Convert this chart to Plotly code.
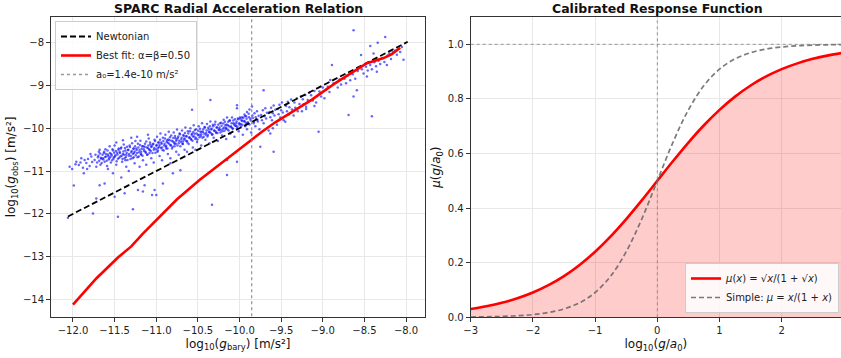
import math
import plotly.graph_objects as go

# ---------------- data: left panel (SPARC RAR) ----------------
# (log10 g_bar, log10 g_obs) pairs
cloud_low = [
    (-12.04, -10.90), (-12.01, -10.95), (-11.97, -10.84), (-11.99, -11.34), (-12.06, -12.09), (-11.96, -10.78),
    (-11.93, -10.86), (-11.91, -10.80), (-11.88, -10.92), (-11.86, -10.74), (-11.90, -10.70), (-11.87, -11.05),
    (-11.84, -10.81), (-11.82, -10.72), (-11.80, -10.88), (-11.78, -10.66), (-11.77, -10.79), (-11.83, -10.95),
    (-11.76, -11.99), (-11.79, -10.60),
    (-11.74, -10.74), (-11.72, -11.64), (-11.73, -10.62), (-11.71, -10.80), (-11.70, -10.68), (-11.69, -10.55),
    (-11.68, -11.33), (-11.67, -10.85), (-11.66, -10.71), (-11.72, -10.90), (-11.68, -10.50),
    (-11.64, -10.70), (-11.63, -10.58), (-11.62, -11.29), (-11.62, -10.78), (-11.61, -10.49), (-11.60, -10.66),
    (-11.59, -10.88), (-11.58, -10.61), (-11.57, -10.73), (-11.56, -10.42), (-11.58, -10.95), (-11.55, -10.67),
    (-11.54, -10.60), (-11.53, -10.75), (-11.52, -10.52), (-11.51, -10.68), (-11.50, -11.60), (-11.50, -10.40),
    (-11.49, -10.63), (-11.48, -10.85), (-11.47, -10.57), (-11.46, -12.07), (-11.46, -10.71), (-11.45, -10.47),
    (-11.52, -11.05), (-11.48, -10.33),
    (-11.44, -10.55), (-11.43, -10.66), (-11.42, -10.45), (-11.41, -10.78), (-11.40, -10.60), (-11.39, -10.38),
    (-11.38, -11.52), (-11.38, -10.70), (-11.37, -10.52), (-11.36, -10.90), (-11.36, -10.62), (-11.35, -10.43),
    (-11.42, -11.15), (-11.40, -10.28), (-11.37, -10.75),
    (-11.34, -10.50), (-11.33, -10.64), (-11.32, -10.40), (-11.31, -10.72), (-11.30, -10.56), (-11.29, -10.35),
    (-11.28, -11.89), (-11.28, -10.60), (-11.27, -10.47), (-11.26, -10.82), (-11.26, -10.54), (-11.25, -10.30),
    (-11.33, -11.00), (-11.30, -10.22), (-11.27, -10.68),
    (-11.24, -10.47), (-11.23, -10.58), (-11.22, -11.44), (-11.22, -10.36), (-11.21, -10.66), (-11.20, -10.51),
    (-11.19, -10.29), (-11.18, -10.55), (-11.17, -10.42), (-11.16, -11.48), (-11.16, -10.75), (-11.15, -10.49),
    (-11.23, -10.20), (-11.20, -10.90), (-11.18, -10.62),
    (-11.14, -11.33), (-11.14, -10.43), (-11.13, -10.55), (-11.12, -10.31), (-11.11, -10.62), (-11.10, -10.46),
    (-11.09, -10.24), (-11.08, -10.51), (-11.07, -10.38), (-11.06, -10.70), (-11.06, -10.44), (-11.05, -11.56),
    (-11.12, -10.85), (-11.10, -10.15), (-11.08, -10.58),
]
cloud_mid = [
    (-11.04, -10.38), (-11.03, -10.50), (-11.02, -11.44), (-11.02, -10.27), (-11.01, -10.57), (-11.00, -10.41),
    (-11.00, -11.56), (-10.99, -10.20), (-10.98, -10.46), (-10.97, -10.33), (-10.96, -10.65), (-10.96, -10.39),
    (-10.95, -10.12), (-11.03, -10.80), (-10.98, -10.52),
    (-10.94, -10.33), (-10.93, -10.45), (-10.92, -11.29), (-10.92, -10.22), (-10.91, -10.52), (-10.90, -10.36),
    (-10.89, -10.15), (-10.88, -10.41), (-10.87, -10.28), (-10.86, -10.60), (-10.86, -10.34), (-10.85, -10.08),
    (-10.93, -10.75), (-10.88, -10.47),
    (-10.84, -10.28), (-10.83, -10.40), (-10.82, -10.17), (-10.81, -10.47), (-10.80, -10.31), (-10.79, -10.10),
    (-10.78, -10.36), (-10.77, -10.23), (-10.76, -10.55), (-10.76, -10.29), (-10.75, -10.03), (-10.83, -10.70),
    (-10.78, -10.42), (-10.80, -11.05), (-10.83, -10.82), (-10.71, -10.98),
    (-10.74, -10.23), (-10.73, -10.35), (-10.72, -10.12), (-10.71, -10.42), (-10.70, -10.26), (-10.69, -10.05),
    (-10.68, -10.31), (-10.67, -10.18), (-10.66, -10.50), (-10.66, -10.24), (-10.65, -9.98), (-10.73, -10.62),
    (-10.68, -10.37),
    (-10.64, -10.18), (-10.63, -10.30), (-10.62, -10.07), (-10.61, -10.37), (-10.60, -10.21), (-10.59, -10.00),
    (-10.58, -10.26), (-10.57, -9.57), (-10.57, -10.13), (-10.56, -10.45), (-10.56, -10.19), (-10.55, -9.93),
    (-10.63, -10.55),
    (-10.54, -10.13), (-10.53, -10.25), (-10.52, -10.02), (-10.51, -10.32), (-10.50, -10.16), (-10.49, -9.95),
    (-10.48, -10.21), (-10.47, -10.08), (-10.46, -10.40), (-10.46, -10.14), (-10.45, -9.88), (-10.53, -10.50),
    (-10.44, -10.08), (-10.43, -10.20), (-10.42, -9.97), (-10.41, -10.27), (-10.40, -10.11), (-10.39, -9.90),
    (-10.38, -10.16), (-10.37, -10.03), (-10.36, -10.35), (-10.36, -10.09), (-10.35, -9.34), (-10.35, -9.84),
    (-10.34, -10.03), (-10.33, -11.79), (-10.33, -10.15), (-10.32, -9.92), (-10.31, -10.22), (-10.30, -10.06),
    (-10.29, -9.85), (-10.28, -10.11), (-10.27, -9.98), (-10.26, -10.30), (-10.25, -10.04),
    (-10.24, -9.98), (-10.23, -10.10), (-10.22, -9.87), (-10.21, -10.17), (-10.20, -10.01), (-10.19, -9.80),
    (-10.18, -10.06), (-10.17, -9.93), (-10.16, -10.25), (-10.16, -9.99), (-10.15, -9.75), (-10.15, -10.74),
    (-10.15, -11.09),
    (-10.14, -9.93), (-10.13, -10.05), (-10.12, -9.82), (-10.11, -10.12), (-10.10, -9.96), (-10.09, -9.75),
    (-10.08, -10.01), (-10.07, -9.88), (-10.06, -10.20), (-10.05, -9.94), (-10.03, -10.78), (-10.03, -9.46),
]
cloud_core = [
    (-11.695, -10.64), (-11.685, -10.76), (-11.675, -10.59), (-11.665, -10.69), (-11.655, -10.81), (-11.645, -10.62),
    (-11.635, -10.73), (-11.625, -10.55), (-11.615, -10.67), (-11.605, -10.60), (-11.595, -10.76), (-11.585, -10.52),
    (-11.575, -10.65), (-11.565, -10.70), (-11.555, -10.58), (-11.545, -10.80), (-11.535, -10.63), (-11.525, -10.49),
    (-11.515, -10.71), (-11.505, -10.57), (-11.495, -10.66), (-11.485, -10.53), (-11.475, -10.77), (-11.465, -10.61),
    (-11.455, -10.50), (-11.445, -10.69), (-11.435, -10.58), (-11.425, -10.47), (-11.415, -10.64), (-11.405, -10.72),
    (-11.395, -10.54), (-11.385, -10.62), (-11.375, -10.46), (-11.365, -10.67), (-11.355, -10.57), (-11.345, -10.74),
    (-11.335, -10.51), (-11.325, -10.60), (-11.315, -10.44), (-11.305, -10.65), (-11.295, -10.53), (-11.285, -10.70),
    (-11.275, -10.48), (-11.265, -10.58), (-11.255, -10.42), (-11.245, -10.63), (-11.235, -10.51), (-11.225, -10.68),
    (-11.215, -10.45), (-11.205, -10.56), (-11.195, -10.39), (-11.185, -10.60), (-11.175, -10.48), (-11.165, -10.64),
    (-11.155, -10.42), (-11.145, -10.53), (-11.135, -10.36), (-11.125, -10.57), (-11.115, -10.45), (-11.105, -10.61),
    (-11.095, -10.40), (-11.085, -10.49), (-11.075, -10.33), (-11.065, -10.53), (-11.055, -10.42), (-11.045, -10.58),
    (-11.035, -10.36), (-11.025, -10.46), (-11.015, -10.30), (-11.005, -10.49), (-10.995, -10.39), (-10.985, -10.55),
    (-10.975, -10.33), (-10.965, -10.43), (-10.955, -10.27), (-10.945, -10.46), (-10.935, -10.36), (-10.925, -10.51),
    (-10.915, -10.30), (-10.905, -10.40), (-10.895, -10.24), (-10.885, -10.43), (-10.875, -10.32), (-10.865, -10.47),
    (-10.855, -10.26), (-10.845, -10.36), (-10.835, -10.21), (-10.825, -10.39), (-10.815, -10.29), (-10.805, -10.43),
    (-10.795, -10.23), (-10.785, -10.33), (-10.775, -10.18), (-10.765, -10.36), (-10.755, -10.26), (-10.745, -10.40),
    (-10.735, -10.19), (-10.725, -10.29), (-10.715, -10.14), (-10.705, -10.32), (-10.695, -10.22), (-10.685, -10.36),
    (-10.675, -10.16), (-10.665, -10.26), (-10.655, -10.11), (-10.645, -10.29), (-10.635, -10.19), (-10.625, -10.33),
    (-10.615, -10.12), (-10.605, -10.22), (-10.595, -10.07), (-10.585, -10.25), (-10.575, -10.15), (-10.565, -10.29),
    (-10.555, -10.09), (-10.545, -10.19), (-10.535, -10.04), (-10.525, -10.22), (-10.515, -10.12), (-10.505, -10.26),
    (-10.495, -10.06), (-10.485, -10.15), (-10.475, -10.01), (-10.465, -10.18), (-10.455, -10.08), (-10.445, -10.22),
    (-10.435, -10.02), (-10.425, -10.12), (-10.415, -9.98), (-10.405, -10.15), (-10.395, -10.05), (-10.385, -10.19),
    (-10.375, -9.99), (-10.365, -10.09), (-10.355, -9.95), (-10.345, -10.11), (-10.335, -10.01), (-10.325, -10.14),
    (-10.315, -9.95), (-10.305, -10.05), (-10.295, -9.91), (-10.285, -10.08), (-10.275, -9.98), (-10.265, -10.11),
    (-10.255, -9.92), (-10.245, -10.02), (-10.235, -9.88), (-10.225, -10.04), (-10.215, -9.94), (-10.205, -10.07),
    (-10.195, -9.89), (-10.185, -9.98), (-10.175, -9.85), (-10.165, -10.01), (-10.155, -9.91), (-10.145, -10.03),
    (-10.135, -9.85), (-10.125, -9.95), (-10.115, -9.82), (-10.105, -9.97), (-10.095, -9.88), (-10.085, -10.00),
    (-10.075, -9.82), (-10.065, -9.91), (-10.055, -9.79), (-10.045, -9.94), (-10.035, -9.84), (-10.025, -9.96),
    (-10.015, -9.79), (-10.005, -9.88), (-9.995, -9.75), (-9.985, -9.90), (-9.975, -9.81), (-9.965, -9.92),
    (-9.955, -9.76), (-9.945, -9.84), (-9.935, -9.72), (-9.925, -9.87), (-9.915, -9.78), (-9.905, -9.89),
    (-9.885, -9.74), (-9.865, -9.82), (-9.845, -9.70), (-9.825, -9.85), (-9.805, -9.74), (-9.785, -9.80),
]
cloud_high = [
    (-10.04, -9.88), (-10.03, -9.53), (-10.03, -10.00), (-10.02, -9.77), (-10.01, -10.07), (-10.00, -9.91),
    (-9.99, -9.77), (-9.98, -9.96), (-9.97, -9.83), (-9.96, -10.15),
    (-9.97, -9.74), (-9.94, -9.68), (-9.91, -9.62), (-9.88, -9.56), (-9.85, -9.49),
    (-9.94, -9.83), (-9.93, -9.95), (-9.92, -9.72), (-9.91, -10.02), (-9.90, -9.86), (-9.89, -9.66),
    (-9.88, -9.91), (-9.87, -9.78), (-9.86, -10.10),
    (-9.84, -9.76), (-9.83, -9.88), (-9.82, -9.65), (-9.81, -9.95), (-9.80, -9.79), (-9.79, -9.60),
    (-9.78, -9.84), (-9.77, -9.71), (-9.76, -10.02), (-9.75, -10.43),
    (-9.74, -9.69), (-9.73, -9.81), (-9.72, -9.58), (-9.71, -9.11), (-9.71, -9.88), (-9.70, -9.72),
    (-9.69, -9.53), (-9.68, -9.77), (-9.67, -9.64), (-9.65, -10.05), (-9.63, -10.12),
    (-9.64, -9.62), (-9.63, -9.74), (-9.62, -9.52), (-9.61, -9.81), (-9.60, -9.65), (-9.59, -9.47),
    (-9.58, -9.70), (-9.57, -9.57), (-9.60, -10.00), (-9.59, -10.55),
    (-9.54, -9.55), (-9.53, -9.67), (-9.52, -9.45), (-9.51, -9.75), (-9.50, -9.58), (-9.49, -9.40),
    (-9.48, -9.63), (-9.47, -9.81), (-9.55, -9.92), (-9.45, -9.85),
    (-9.44, -9.48), (-9.43, -9.60), (-9.42, -9.38), (-9.41, -9.68), (-9.40, -9.51), (-9.38, -9.33),
    (-9.37, -9.56), (-9.35, -9.70),
    (-9.34, -9.40), (-9.33, -9.52), (-9.31, -9.30), (-9.30, -9.60), (-9.28, -9.43), (-9.26, -9.25),
    (-9.25, -9.60),
    (-9.24, -9.32), (-9.23, -9.44), (-9.21, -9.22), (-9.20, -9.50), (-9.18, -9.34), (-9.16, -9.17),
    (-9.20, -9.55),
    (-9.14, -9.23), (-9.12, -9.35), (-9.10, -9.13), (-9.08, -9.40), (-9.05, -10.08), (-9.10, -9.48),
    (-9.04, -9.14), (-9.02, -9.26), (-9.00, -9.05), (-8.98, -9.30), (-8.96, -9.10),
    (-8.94, -9.03), (-8.92, -9.15), (-8.91, -8.87), (-8.89, -8.52), (-8.87, -8.95),
    (-8.84, -8.94), (-8.82, -9.05), (-8.80, -8.86), (-8.78, -8.98),
    (-8.74, -8.84), (-8.72, -8.95), (-8.69, -9.69), (-8.70, -8.76), (-8.67, -8.88),
    (-8.64, -8.74), (-8.63, -7.71), (-8.63, -9.26), (-8.61, -8.84), (-8.59, -9.11), (-8.58, -8.66),
    (-8.54, -8.29), (-8.53, -8.62), (-8.51, -8.72), (-8.48, -8.56), (-8.47, -8.79), (-8.46, -8.65),
    (-8.43, -8.08), (-8.43, -8.52), (-8.41, -9.72), (-8.41, -8.62), (-8.39, -8.25), (-8.38, -8.46),
    (-8.36, -8.55), (-8.35, -8.68),
    (-8.34, -8.00), (-8.33, -8.42), (-8.31, -8.50), (-8.28, -8.36), (-8.26, -8.45), (-8.25, -7.87),
    (-8.23, -8.52), (-8.22, -8.30), (-8.20, -8.25), (-8.18, -8.38), (-8.16, -8.22),
    (-8.13, -8.18), (-8.11, -8.28), (-8.09, -8.14), (-8.07, -8.22), (-8.03, -8.40), (-8.05, -8.10),
]

newton_x = [-12.06, -7.98]

fit_x = [-12.00, -11.72, -11.46, -11.30, -11.16, -11.00, -10.75, -10.48, -10.17, -9.93, -9.73,
         -9.57, -9.37, -9.13, -9.00, -8.83, -8.65, -8.47, -8.27, -8.17, -8.07]
fit_y = [-14.12, -13.51, -13.02, -12.76, -12.46, -12.15, -11.66, -11.21, -10.74, -10.39, -10.08,
         -9.86, -9.62, -9.33, -9.15, -8.92, -8.70, -8.48, -8.36, -8.27, -8.12]

a0 = 1.4e-10

# ---------------- data: right panel (response function) ----------------
resp_t = [-3.0, -2.75, -2.5, -2.25, -2.0, -1.75, -1.5, -1.25, -1.0, -0.75, -0.5, -0.25, 0.0,
          0.25, 0.5, 0.75, 1.0, 1.25, 1.5, 1.75, 2.0, 2.25, 2.5, 2.75, 3.0]
mu_fit = [0.0307, 0.0405, 0.0532, 0.0698, 0.0909, 0.1177, 0.1510, 0.1917, 0.2403, 0.2966, 0.3599,
          0.4285, 0.5000, 0.5715, 0.6401, 0.7034, 0.7597, 0.8083, 0.8490, 0.8823, 0.9091, 0.9302,
          0.9468, 0.9595, 0.9693]
mu_simple = [0.0010, 0.0018, 0.0032, 0.0056, 0.0099, 0.0175, 0.0307, 0.0532, 0.0909, 0.1510, 0.2403,
             0.3599, 0.5000, 0.6401, 0.7597, 0.8490, 0.9091, 0.9468, 0.9693, 0.9825, 0.9901, 0.9944,
             0.9968, 0.9982, 0.9990]

left_xticks = [-12.0, -11.5, -11.0, -10.5, -10.0, -9.5, -9.0, -8.5, -8.0]
left_yticks = [-14, -13, -12, -11, -10, -9, -8]
right_xticks = [-3, -2, -1, 0, 1, 2]
right_yticks = [0.0, 0.2, 0.4, 0.6, 0.8, 1.0]


def lab(v, fmt):
    s = fmt.format(v)
    return s.replace("-", "\u2212")


pts = cloud_low + cloud_mid + cloud_core + cloud_high
px = [p[0] for p in pts]
py = [p[1] for p in pts]

FONT = "DejaVu Sans"
fig = go.Figure()

fig.add_trace(go.Scatter(
    x=px, y=py, mode="markers", xaxis="x", yaxis="y", showlegend=False,
    marker=dict(size=2.5, color="rgba(0,0,255,0.6)", line=dict(width=0)),
))
fig.add_trace(go.Scatter(
    x=newton_x, y=newton_x, mode="lines", name="Newtonian", xaxis="x", yaxis="y",
    line=dict(color="black", width=1.8, dash="6px,3px"), legend="legend",
))
fig.add_trace(go.Scatter(
    x=fit_x, y=fit_y, mode="lines", name="Best fit: \u03b1=\u03b2=0.50", xaxis="x", yaxis="y",
    line=dict(color="red", width=2.6), legend="legend",
))
la0 = math.log10(a0)
fig.add_trace(go.Scatter(
    x=[la0, la0], y=[-20, 0], mode="lines", name="a\u2080=1.4e-10 m/s\u00b2", xaxis="x", yaxis="y",
    line=dict(color="rgba(128,128,128,0.8)", width=1.3, dash="dot"), legend="legend",
))

# right panel
fig.add_trace(go.Scatter(
    x=resp_t, y=mu_fit, mode="lines", xaxis="x2", yaxis="y2", showlegend=False,
    fill="tozeroy", fillcolor="rgba(255,0,0,0.2)", line=dict(width=0, shape="spline"),
    hoverinfo="skip",
))
fig.add_trace(go.Scatter(
    x=resp_t, y=mu_fit, mode="lines", xaxis="x2", yaxis="y2", legend="legend2",
    name="<i>\u03bc</i>(<i>x</i>) = \u221a<i>x</i>/(1 + \u221a<i>x</i>)",
    line=dict(color="red", width=2.6, shape="spline"),
))
fig.add_trace(go.Scatter(
    x=resp_t, y=mu_simple, mode="lines", xaxis="x2", yaxis="y2", legend="legend2",
    name="Simple: <i>\u03bc</i> = <i>x</i>/(1 + <i>x</i>)",
    line=dict(color="rgba(100,100,100,0.85)", width=1.7, dash="5px,3px", shape="spline"),
))

fig.add_shape(type="line", xref="x2 domain", yref="y2", x0=0, x1=1, y0=1.0, y1=1.0,
              line=dict(color="rgba(128,128,128,0.8)", width=1, dash="dot"))
fig.add_shape(type="line", xref="x2", yref="y2 domain", x0=0, x1=0, y0=0, y1=1,
              line=dict(color="rgba(128,128,128,0.8)", width=1, dash="dot"))

axis_common = dict(
    showline=True, linecolor="#333333", linewidth=1, ticks="outside", ticklen=4, tickwidth=1,
    tickcolor="#333333", showgrid=True, gridcolor="#e8e8e8", gridwidth=1, zeroline=False,
    tickfont=dict(family=FONT, size=10, color="#222"), automargin=False,
)
title_font = dict(family=FONT, size=12, color="#111")

fig.update_layout(
    template="none",
    width=841, height=358, margin=dict(l=0, r=0, t=0, b=0, autoexpand=False),
    paper_bgcolor="white", plot_bgcolor="white",
    font=dict(family=FONT, size=10, color="#222"),
    xaxis=dict(domain=[51 / 841, 425 / 841], range=[-12.264, -7.772], mirror=True,
               tickvals=left_xticks, ticktext=[lab(v, "{:.1f}") for v in left_xticks],
               title=dict(text="log<sub>10</sub>(<i>g</i><sub>bary</sub>) [m/s\u00b2]", font=title_font, standoff=4),
               anchor="y", **axis_common),
    yaxis=dict(domain=[1 - 317 / 358, 1 - 17 / 358], range=[-14.41, -7.40], mirror=True,
               tickvals=left_yticks, ticktext=[lab(v, "{:d}") for v in left_yticks],
               title=dict(text="log<sub>10</sub>(<i>g</i><sub>obs</sub>) [m/s\u00b2]", font=title_font, standoff=4),
               anchor="x", **axis_common),
    xaxis2=dict(domain=[470.7 / 841, 1.0], range=[-3, 2.953], mirror=True,
                tickvals=right_xticks, ticktext=[lab(v, "{:d}") for v in right_xticks],
                title=dict(text="log<sub>10</sub>(<i>g</i>/<i>a</i><sub>0</sub>)", font=title_font, standoff=4),
                anchor="y2", **axis_common),
    yaxis2=dict(domain=[1 - 317.3 / 358, 1 - 17 / 358], range=[0, 1.1], mirror=False,
                tickvals=right_yticks, ticktext=[lab(v, "{:.1f}") for v in right_yticks],
                title=dict(text="<i>\u03bc</i>(<i>g</i>/<i>a</i><sub>0</sub>)", font=title_font, standoff=4),
                anchor="x2", **axis_common),
    legend=dict(x=55 / 841, y=1 - 21 / 358, xanchor="left", yanchor="top",
                bgcolor="rgba(255,255,255,0.85)", bordercolor="#cccccc", borderwidth=1,
                font=dict(family=FONT, size=10, color="#222"), itemwidth=30, tracegroupgap=0),
    legend2=dict(x=839 / 841, y=1 - 313 / 358, xanchor="right", yanchor="bottom",
                 bgcolor="rgba(255,255,255,0.85)", bordercolor="#cccccc", borderwidth=1,
                 font=dict(family=FONT, size=10, color="#222"), itemwidth=30, tracegroupgap=0),
    annotations=[
        dict(text="<b>SPARC Radial Acceleration Relation</b>", x=238.5 / 841, y=1 - 8.5 / 358,
             xref="paper", yref="paper", showarrow=False, xanchor="center", yanchor="middle",
             font=dict(family=FONT, size=12.5, color="#111")),
        dict(text="<b>Calibrated Response Function</b>", x=657 / 841, y=1 - 8.5 / 358,
             xref="paper", yref="paper", showarrow=False, xanchor="center", yanchor="middle",
             font=dict(family=FONT, size=12.5, color="#111")),
    ],
)

fig.write_html("out.html", config={"displayModeBar": False},
               post_script="document.body.style.margin='0';document.body.style.overflow='hidden';")
